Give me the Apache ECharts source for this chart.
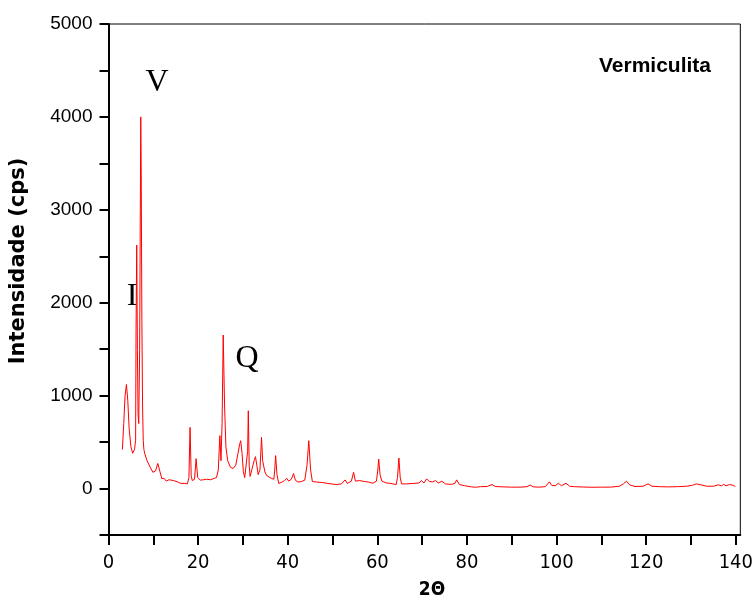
<!DOCTYPE html>
<html>
<head>
<meta charset="utf-8">
<script src="https://cdn.jsdelivr.net/npm/echarts@6/dist/echarts.min.js"></script>
<style>html,body{margin:0;padding:0;background:#fff}#c{width:756px;height:601px}</style>
</head>
<body>
<div id="c"></div>
<script>
var twoTheta = [3.1,3.4,3.7,4.0,4.3,4.6,5.0,5.4,5.8,6.05,6.15,6.2,6.3,6.45,6.6,6.75,6.95,7.1,7.2,7.3,7.45,7.6,7.75,7.9,8.1,8.6,9.3,9.9,10.5,11.0,11.2,11.5,11.9,12.4,12.6,12.9,13.5,14.5,15.5,16.0,17.0,17.6,17.95,18.2,18.45,18.7,19.2,19.55,19.9,20.5,21.2,21.9,22.8,23.6,24.1,24.5,24.85,25.1,25.35,25.6,25.9,26.2,26.6,27.2,27.8,28.4,28.9,29.3,29.5,29.8,30.1,30.4,30.8,31.05,31.2,31.4,31.6,32.0,32.5,32.8,33.1,33.4,33.8,34.15,34.4,34.6,34.9,35.3,35.7,36.3,36.9,37.1,37.3,37.6,38.0,38.7,39.3,39.8,40.2,40.8,41.3,41.7,42.3,43.0,43.8,44.3,44.7,45.1,45.5,46.5,47.8,49.0,50.8,52.0,52.8,53.3,54.2,54.7,55.1,56.0,57.2,58.0,59.0,59.8,60.1,60.3,60.6,61.0,62.0,63.0,64.2,64.5,64.8,65.1,65.4,66.5,68.0,69.3,69.85,70.4,71.0,71.6,72.3,73.0,73.6,74.4,75.2,76.5,77.3,77.7,78.3,79.5,81.0,81.9,83.0,84.5,85.6,86.3,88.0,90.0,92.0,93.4,94.1,94.8,96.0,97.5,98.4,98.9,99.7,100.4,101.1,102.1,102.9,104.0,106.0,107.9,110.0,112.0,114.0,114.9,115.6,116.3,117.5,119.3,120.4,121.3,123.0,125.0,127.0,129.0,130.3,131.2,132.2,133.5,135.0,136.1,136.4,136.8,137.3,137.8,138.6,139.4,139.9];
var intensity = [420,700,1000,1120,950,650,450,380,420,520,1720,1720,2620,1500,800,700,1500,3000,4000,3400,1800,900,520,420,375,300,230,175,190,270,283,180,107,110,125,80,95,86,70,57,55,50,120,658,140,86,100,322,120,90,95,100,95,110,118,200,569,300,700,1652,900,450,300,230,215,250,380,483,515,380,180,118,130,400,837,250,130,150,300,343,250,150,200,551,300,290,180,140,120,110,100,200,354,150,54,70,86,110,80,100,161,90,70,75,90,250,515,200,75,70,64,55,43,50,93,55,80,175,80,86,75,70,57,80,200,318,150,80,60,55,43,120,329,120,50,50,55,60,86,60,104,75,72,86,60,79,50,45,55,93,43,30,18,14,20,22,43,22,18,15,15,20,38,18,15,20,72,35,30,57,30,57,25,20,16,14,15,15,25,50,79,40,22,25,50,25,20,18,20,25,35,50,40,25,25,40,48,30,45,30,43,35,22];
var xTicks = [0,10,20,30,40,50,60,70,80,90,100,110,120,130,140];
var xLabels = [0,20,40,60,80,100,120,140];
var yTicks = [-500,0,500,1000,1500,2000,2500,3000,3500,4000,4500,5000];
var yLabels = [0,1000,2000,3000,4000,5000];

var pts = twoTheta.map(function(t,i){return [t, intensity[i]];});
var chart = echarts.init(document.getElementById('c'), null, {renderer:'canvas'});
chart.setOption({
  animation:false,
  backgroundColor:'#fff',
  grid:{left:108.5, top:24, right:10, bottom:66, show:true, borderColor:'#000', borderWidth:1, backgroundColor:'transparent'},
  xAxis:{type:'value', min:0, max:141,
    axisLine:{onZero:false, lineStyle:{color:'#000', width:2}},
    axisTick:{customValues:xTicks, length:10, lineStyle:{color:'#000', width:2}},
    axisLabel:{customValues:xLabels, margin:18, color:'#000', fontSize:20, fontFamily:"'Liberation Sans Narrow','DejaVu Sans Condensed',sans-serif", formatter:function(v){return String(v);}},
    splitLine:{show:false}},
  yAxis:{type:'value', min:-500, max:5000,
    axisLine:{show:true, onZero:false, lineStyle:{color:'#000', width:2}},
    axisTick:{show:true, customValues:yTicks, length:9, lineStyle:{color:'#000', width:2}},
    axisLabel:{customValues:yLabels, margin:16, color:'#000', fontSize:19, fontFamily:"'Liberation Sans',Arial,sans-serif", formatter:function(v){return String(v);}},
    splitLine:{show:false}},
  series:[{type:'line', data:pts, symbol:'none', lineStyle:{color:'#ff0000', width:1}, itemStyle:{color:'#ff0000'}}],
  graphic:[
    {type:'text', x:655, y:66, style:{text:'Vermiculita', font:"bold 21px 'Liberation Sans',Arial,sans-serif", fill:'#000', textAlign:'center', textVerticalAlign:'middle'}},
    {type:'text', x:157, y:83, style:{text:'V', font:"32px 'Liberation Serif','Times New Roman',serif", fill:'#000', textAlign:'center', textVerticalAlign:'middle'}},
    {type:'text', x:132, y:297, style:{text:'I', font:"32px 'Liberation Serif','Times New Roman',serif", fill:'#000', textAlign:'center', textVerticalAlign:'middle'}},
    {type:'text', x:247, y:359, style:{text:'Q', font:"32px 'Liberation Serif','Times New Roman',serif", fill:'#000', textAlign:'center', textVerticalAlign:'middle'}},
    {type:'text', x:19, y:261, rotation:Math.PI/2, style:{text:'Intensidade (cps)', font:"bold 21px 'DejaVu Sans',sans-serif", fill:'#000', textAlign:'center', textVerticalAlign:'middle'}},
    {type:'text', x:432, y:590, style:{text:'2Θ', font:"bold 19px 'Liberation Sans Narrow','DejaVu Sans Condensed',sans-serif", fill:'#000', textAlign:'center', textVerticalAlign:'middle'}}
  ]
});
</script>
</body>
</html>
